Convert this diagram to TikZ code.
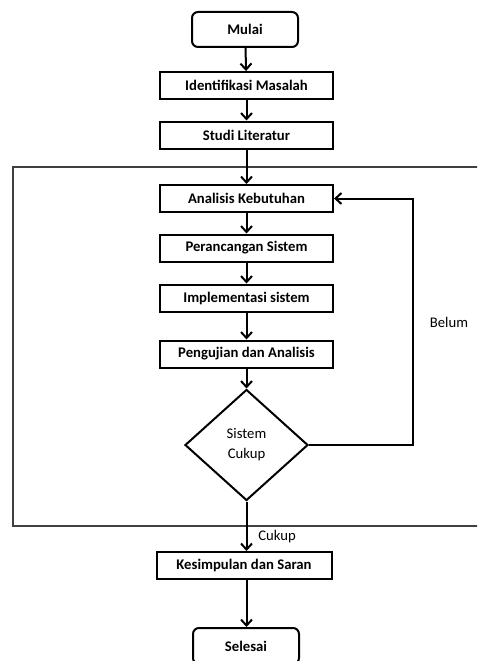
\documentclass[tikz,border=0pt]{standalone}
\usepackage{fontspec}
\setmainfont{Carlito}
\usetikzlibrary{shapes.geometric,arrows.meta}
\tikzset{
  stepbox/.style={draw=black, line width=2pt, fill=white, minimum width=173pt,
    minimum height=27pt, inner sep=0pt, font=\fontsize{14.7}{17}\selectfont\bfseries},
  termbox/.style={stepbox, rounded corners=6pt, minimum width=106pt, minimum height=35pt},
  decide/.style={draw=black, line width=2pt, shape=diamond, minimum width=123pt,
    minimum height=111pt, inner sep=0pt, align=center,
    font=\fontsize{14.7}{20}\selectfont},
  flow/.style={line width=2pt, -{Straight Barb[length=6pt,width=11pt]}},
  lbl/.style={font=\fontsize{14.7}{17}\selectfont, inner sep=0pt},
  frame/.style={draw=black!75, line width=1.2pt}
}
\begin{document}
\begin{tikzpicture}[x=1pt, y=-1pt]
  \useasboundingbox (0,0) rectangle (477,661);
  \clip (0,0) rectangle (477,661);

  % outer frame around the design-and-test loop
  \draw[frame] (13,167) rectangle (490,526);

  % process steps
  \node[termbox] (mulai) at (245,29.5) {Mulai};
  \node[stepbox] (ident) at (246.5,85.5) {Identifikasi Masalah};
  \node[stepbox] (studi) at (246.5,135) {Studi Literatur};
  \node[stepbox] (anal) at (246.5,198.5) {Analisis Kebutuhan};
  \node[stepbox] (ranc) at (246.5,248) {Perancangan Sistem};
  \node[stepbox] (impl) at (246.5,298) {Implementasi sistem};
  \node[stepbox] (uji) at (246.5,354) {Pengujian dan Analisis};
  \node[decide] (cek) at (246.5,445) {Sistem\\Cukup};
  \node[stepbox, minimum width=175pt] (simp) at (244,565.5) {Kesimpulan dan Saran};
  \node[termbox, minimum height=36pt] (selesai) at (246,646) {Selesai};

  % main flow
  \draw[flow] (mulai) -- (ident);
  \draw[flow] (ident) -- (studi);
  \draw[flow] (studi) -- (anal);
  \draw[flow] (anal) -- (ranc);
  \draw[flow] (ranc) -- (impl);
  \draw[flow] (impl) -- (uji);
  \draw[flow] (uji) -- (cek);
  \draw[flow] (cek.south) -- (cek.south |- simp.north);
  \draw[flow] (simp.south -| cek.south) -- (cek.south |- selesai.north);

  % feedback loop when the system is not yet sufficient
  \coordinate (back) at (413,445);
  \draw[flow] (cek.east) -- (back) |- (anal.east);

  % branch labels
  \node[lbl] (belum) at (449,322) {Belum};
  \node[lbl] (cukup) at (277,537) {Cukup};
\end{tikzpicture}
\end{document}
